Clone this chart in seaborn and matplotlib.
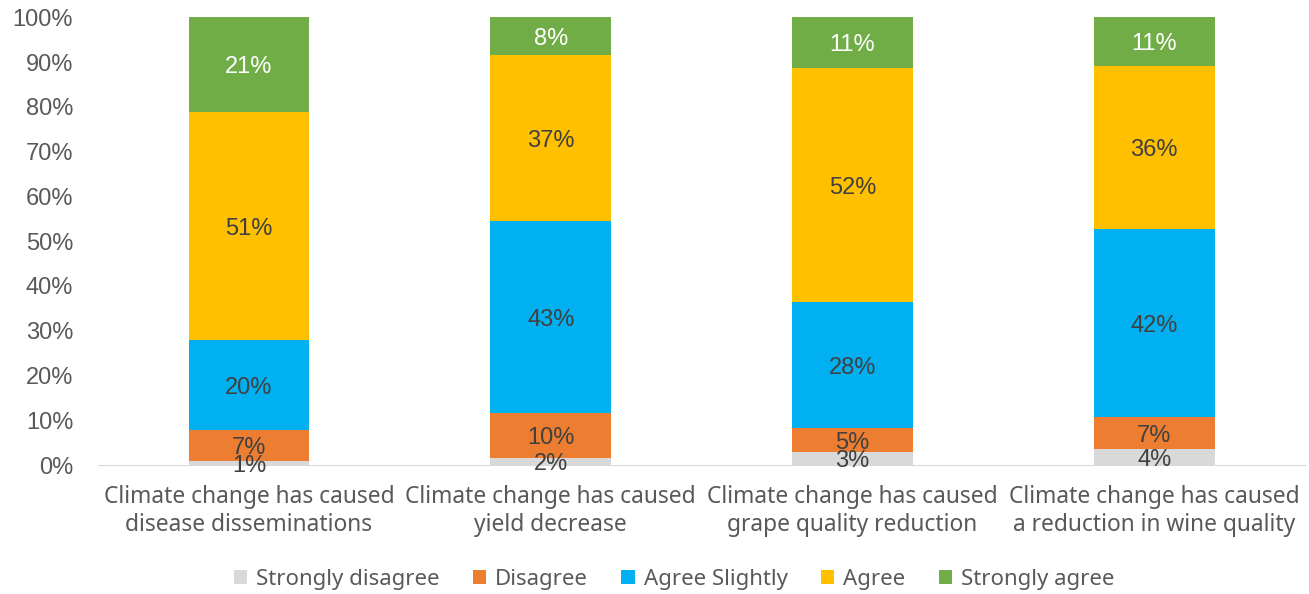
import numpy as np
import pandas as pd
import seaborn as sns
import matplotlib.pyplot as plt

# statements on the x axis
statements = [
    "Climate change has caused\ndisease disseminations",
    "Climate change has caused\nyield decrease",
    "Climate change has caused\ngrape quality reduction",
    "Climate change has caused\na reduction in wine quality",
]
levels = ["Strongly disagree", "Disagree", "Agree Slightly", "Agree", "Strongly agree"]

# share of answers (%) per statement
strongly_disagree = [1.0, 1.6, 2.9, 3.6]
disagree = [6.8, 10.0, 5.4, 7.1]
agree_slightly = [20.2, 42.9, 28.1, 42.0]
agree = [50.8, 37.1, 52.2, 36.4]
strongly_agree = [21.2, 8.4, 11.4, 10.9]

colors = ["#D9D9D9", "#ED7D31", "#00B0F0", "#FFC000", "#70AD47"]
label_colors = ["#404040", "#404040", "#404040", "#404040", "#FFFFFF"]

series = [strongly_disagree, disagree, agree_slightly, agree, strongly_agree]
df = pd.DataFrame({lvl: vals for lvl, vals in zip(levels, series)})
df["Statement"] = statements

sns.set_style("white")
plt.rcParams["font.family"] = ["Liberation Sans", "DejaVu Sans"]

fig = plt.figure(figsize=(13.09, 5.94), dpi=100)
ax = fig.add_axes([0.075, 0.217, 0.922, 0.754])

# stack by drawing the cumulative totals from the top down
cum = df[levels].cumsum(axis=1)
for i in reversed(range(len(levels))):
    sns.barplot(x=df["Statement"], y=cum[levels[i]], color=colors[i], width=0.4,
                saturation=1, linewidth=0, ax=ax, label=levels[i])

# percentage labels in the middle of each segment (small ones overlap, as in the original)
for j in range(len(statements)):
    base = 0
    for i, lvl in enumerate(levels):
        v = df.loc[j, lvl]
        ax.text(j, base + v / 2 - 0.6, f"{round(v):.0f}%", ha="center", va="center",
                fontsize=17, color=label_colors[i])
        base += v

ax.set_ylim(0, 100)
ax.set_xlim(-0.5, 3.5)
ax.set_yticks(range(0, 101, 10))
ax.set_yticklabels([f"{t}%" for t in range(0, 101, 10)])
ax.set_xlabel("")
ax.set_ylabel("")
ax.tick_params(axis="y", length=0, labelsize=17, labelcolor="#595959", pad=18)
ax.tick_params(axis="x", length=0, labelsize=16.4, labelcolor="#595959", pad=14)
for lab in ax.get_xticklabels():
    lab.set_fontfamily(["Noto Sans", "DejaVu Sans"])
    lab.set_linespacing(1.25)
for s in ["top", "right", "left"]:
    ax.spines[s].set_visible(False)
ax.spines["bottom"].set_color("#D9D9D9")

handles, labels = ax.get_legend_handles_labels()
ax.get_legend().remove()
order = [labels.index(l) for l in levels]
leg = fig.legend([handles[k] for k in order], levels, loc="center",
                 bbox_to_anchor=(0.515, 0.025), ncol=5, frameon=False,
                 handlelength=0.6, handleheight=0.6,
                 handletextpad=0.4, columnspacing=1.5,
                 prop={"family": ["Noto Sans", "DejaVu Sans"], "size": 16})
for t in leg.get_texts():
    t.set_color("#595959")

fig.savefig("out.png", dpi=100)
